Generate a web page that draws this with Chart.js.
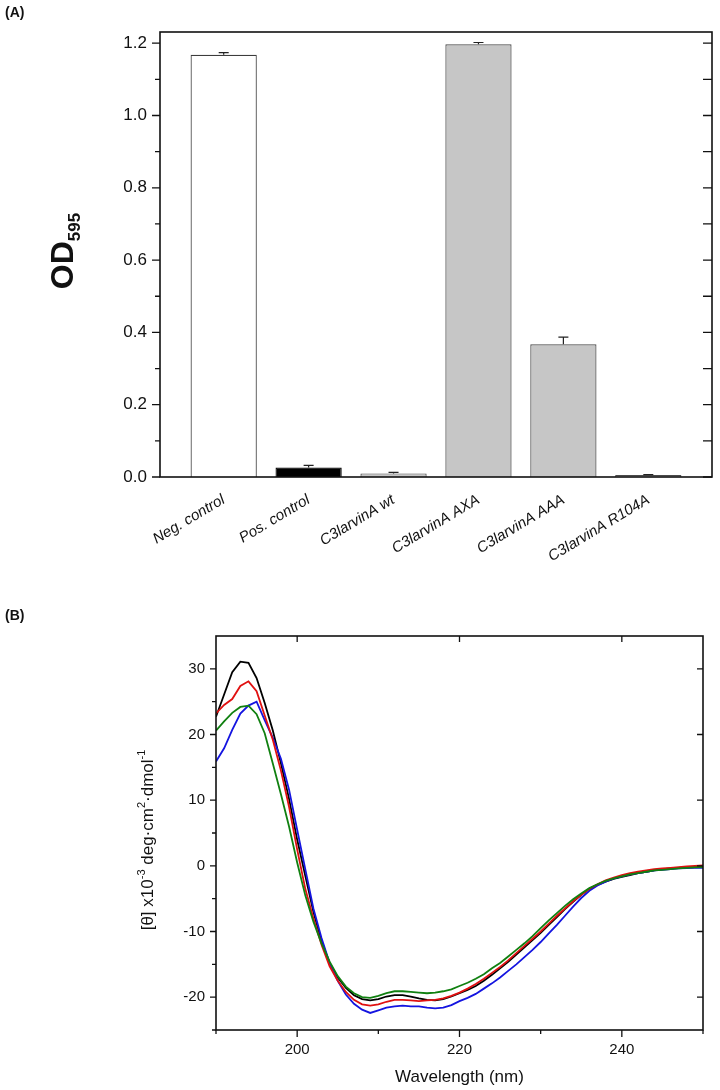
<!DOCTYPE html>
<html>
<head>
<meta charset="utf-8">
<script src="https://cdn.jsdelivr.net/npm/chart.js@4.4.1/dist/chart.umd.min.js"></script>
<style>
  html, body { margin: 0; padding: 0; background: #fff; }
  body { width: 720px; height: 1090px; position: relative; overflow: hidden; font-family: "Liberation Sans", Arial, sans-serif; }
  .panel { position: absolute; left: 0; width: 720px; }
  #wrapA { top: 0; height: 560px; }
  #wrapB { top: 590px; height: 500px; }
  .tag { position: absolute; left: 5px; font-weight: bold; font-size: 14px; color: #111; z-index: 2; }
</style>
</head>
<body>
<div class="panel" id="wrapA"><canvas id="odChart"></canvas></div>
<div class="panel" id="wrapB"><canvas id="cdChart"></canvas></div>
<div class="tag" style="top:4px">(A)</div>
<div class="tag" style="top:607px">(B)</div>
<script>
// panel A: OD595 per construct
const categories = ["Neg. control", "Pos. control", "C3larvinA wt", "C3larvinA AXA", "C3larvinA AAA", "C3larvinA R104A"];
const odMeans = [1.168, 0.026, 0.010, 1.197, 0.367, 0.0055];
const odErrors = [0.006, 0.006, 0.003, 0.005, 0.020, 0.001];
const odTicks = [0, 0.2, 0.4, 0.6, 0.8, 1.0, 1.2];
const odMinorTicks = [0.1, 0.3, 0.5, 0.7, 0.9, 1.1];

// panel B: CD spectra
const wavelengths = [190, 191, 192, 193, 194, 195, 196, 197, 198, 199,
  200, 201, 202, 203, 204, 205, 206, 207, 208, 209,
  210, 211, 212, 213, 214, 215, 216, 217, 218, 219,
  220, 221, 222, 223, 224, 225, 226, 227, 228, 229,
  230, 231, 232, 233, 234, 235, 236, 237, 238, 239,
  240, 241, 242, 243, 244, 245, 246, 247, 248, 249, 250];
const thetaBlack = [22.7, 26.1, 29.5, 31.1, 30.9, 28.6, 24.8, 20.6, 15.6, 10.2,
  4.0, -1.5, -7.0, -11.5, -14.8, -17.0, -18.6, -19.7, -20.3, -20.5,
  -20.3, -19.9, -19.7, -19.7, -19.9, -20.2, -20.4, -20.5, -20.3, -19.9,
  -19.4, -18.9, -18.3, -17.5, -16.6, -15.6, -14.6, -13.5, -12.4, -11.3,
  -10.2, -9.0, -7.8, -6.6, -5.5, -4.4, -3.5, -2.9, -2.4, -2.0,
  -1.7, -1.4, -1.1, -0.9, -0.7, -0.5, -0.4, -0.3, -0.2, -0.2, -0.2];
const thetaRed = [23.2, 24.5, 25.4, 27.4, 28.1, 26.6, 22.9, 19.2, 14.5, 9.0,
  2.5, -3.5, -8.0, -12.0, -15.3, -17.5, -19.2, -20.4, -21.1, -21.3,
  -21.1, -20.7, -20.4, -20.4, -20.5, -20.6, -20.5, -20.4, -20.2, -19.8,
  -19.3, -18.7, -18.0, -17.2, -16.3, -15.4, -14.4, -13.3, -12.2, -11.1,
  -10.0, -8.8, -7.6, -6.5, -5.4, -4.4, -3.5, -2.8, -2.2, -1.8,
  -1.4, -1.1, -0.9, -0.7, -0.5, -0.4, -0.3, -0.2, -0.1, 0.0, 0.05];
const thetaBlue = [15.9, 17.9, 20.7, 23.2, 24.4, 25.0, 22.2, 19.5, 16.3, 11.6,
  5.5, -0.5, -6.5, -11.0, -14.8, -17.5, -19.6, -21.0, -21.9, -22.4,
  -22.0, -21.6, -21.4, -21.3, -21.4, -21.4, -21.6, -21.7, -21.6, -21.2,
  -20.6, -20.1, -19.5, -18.7, -17.9, -17.0, -16.0, -15.0, -13.9, -12.8,
  -11.6, -10.3, -9.0, -7.6, -6.2, -4.9, -3.8, -3.0, -2.4, -1.9,
  -1.6, -1.3, -1.1, -0.9, -0.7, -0.6, -0.5, -0.4, -0.35, -0.3, -0.3];
const thetaGreen = [20.6, 22.0, 23.3, 24.2, 24.4, 23.1, 20.2, 15.6, 10.9, 6.0,
  0.5, -4.5, -8.5, -11.8, -14.6, -16.8, -18.4, -19.4, -20.0, -20.1,
  -19.8, -19.4, -19.1, -19.1, -19.2, -19.3, -19.4, -19.3, -19.1, -18.8,
  -18.3, -17.8, -17.2, -16.5, -15.6, -14.8, -13.8, -12.8, -11.8, -10.7,
  -9.5, -8.3, -7.2, -6.1, -5.1, -4.2, -3.4, -2.8, -2.3, -1.9,
  -1.6, -1.3, -1.1, -0.9, -0.7, -0.6, -0.5, -0.4, -0.3, -0.25, -0.2];
const wlTicks = [200, 220, 240];
const wlMinorTicks = [190, 210, 230, 250];
const thetaTicks = [-20, -10, 0, 10, 20, 30];
const thetaMinorTicks = [-25, -15, -5, 5, 15, 25];

Chart.defaults.font.family = '"Liberation Sans", Arial, sans-serif';
Chart.defaults.color = "#111";

// little tick marks, + len = outward, - len = inward
function tickMarks(ctx, chart, scale, values, side, len) {
  const a = chart.chartArea;
  ctx.beginPath();
  values.forEach((v) => {
    const p = scale.getPixelForValue(v);
    if (side === "left") { ctx.moveTo(a.left, p); ctx.lineTo(a.left - len, p); }
    if (side === "right") { ctx.moveTo(a.right, p); ctx.lineTo(a.right + len, p); }
    if (side === "bottom") { ctx.moveTo(p, a.bottom); ctx.lineTo(p, a.bottom + len); }
    if (side === "top") { ctx.moveTo(p, a.top); ctx.lineTo(p, a.top - len); }
  });
  ctx.stroke();
}

function frame(ctx, chart) {
  const a = chart.chartArea;
  ctx.strokeRect(a.left, a.top, a.right - a.left, a.bottom - a.top);
}

// text with sub/superscript pieces, rotated to read bottom-up
function rotatedRich(ctx, parts, cx, cy) {
  ctx.save();
  ctx.translate(cx, cy);
  ctx.rotate(-Math.PI / 2);
  ctx.textBaseline = "alphabetic";
  ctx.textAlign = "left";
  let total = 0;
  parts.forEach((p) => { ctx.font = p.font; total += ctx.measureText(p.t).width; });
  let x = -total / 2;
  parts.forEach((p) => {
    ctx.font = p.font;
    ctx.fillText(p.t, x, p.dy || 0);
    x += ctx.measureText(p.t).width;
  });
  ctx.restore();
}

const decorA = {
  id: "decorA",
  afterDatasetsDraw(chart) {
    const ctx = chart.ctx;
    const xs = chart.scales.x, ys = chart.scales.y;
    ctx.save();
    ctx.strokeStyle = "#222";
    ctx.lineWidth = 1.2;
    odMeans.forEach((m, i) => {
      const x = xs.getPixelForValue(i + 1);
      const y0 = ys.getPixelForValue(m);
      const y1 = ys.getPixelForValue(m + odErrors[i]);
      ctx.beginPath();
      ctx.moveTo(x, y0); ctx.lineTo(x, y1);
      ctx.moveTo(x - 5, y1); ctx.lineTo(x + 5, y1);
      ctx.stroke();
    });
    ctx.restore();
  },
  afterDraw(chart) {
    const ctx = chart.ctx;
    const ys = chart.scales.y;
    ctx.save();
    ctx.strokeStyle = "#111";
    ctx.lineWidth = 1.6;
    frame(ctx, chart);
    ctx.lineWidth = 1.3;
    tickMarks(ctx, chart, ys, odTicks, "left", 8);
    tickMarks(ctx, chart, ys, odMinorTicks, "left", 5);
    tickMarks(ctx, chart, ys, odTicks.concat(odMinorTicks), "right", -9);
    ctx.fillStyle = "#111";
    rotatedRich(ctx, [
      { t: "OD", font: "bold 32px 'Liberation Sans', Arial, sans-serif" },
      { t: "595", font: "bold 17px 'Liberation Sans', Arial, sans-serif", dy: 7 },
    ], 73, 251);
    ctx.restore();
  },
};

new Chart(document.getElementById("odChart"), {
  type: "bar",
  data: {
    datasets: [
      {
        data: categories.map((c, i) => ({ x: i + 1, y: odMeans[i] })),
        backgroundColor: ["#ffffff", "#000000", "#c6c6c6", "#c6c6c6", "#c6c6c6", "#c6c6c6"],
        borderColor: ["#3c3c3c", "#000000", "#4a4a4a", "#4a4a4a", "#4a4a4a", "#4a4a4a"],
        borderWidth: 1.2,
        barPercentage: 0.78,
        categoryPercentage: 1,
      },
    ],
  },
  options: {
    responsive: true,
    maintainAspectRatio: false,
    animation: false,
    layout: { padding: { top: 32, right: 8, left: 0, bottom: 0 } },
    plugins: { legend: { display: false }, tooltip: { enabled: false } },
    scales: {
      x: {
        type: "linear",
        offset: false,
        min: 0.25,
        max: 6.75,
        grid: { display: false, drawTicks: false },
        border: { display: false },
        afterBuildTicks: (s) => { s.ticks = categories.map((c, i) => ({ value: i + 1 })); },
        afterFit: (s) => { s.height = 83; },
        ticks: {
          autoSkip: false,
          minRotation: 31,
          maxRotation: 31,
          padding: 14,
          font: { size: 15, style: "italic" },
          callback: (v) => categories[v - 1] || "",
        },
      },
      y: {
        min: 0,
        max: 1.231,
        grid: { display: false, drawTicks: false },
        border: { display: false },
        afterBuildTicks: (s) => { s.ticks = odTicks.map((v) => ({ value: v })); },
        afterFit: (s) => { s.width = 160; },
        ticks: { padding: 13, font: { size: 17 }, callback: (v) => v.toFixed(1) },
      },
    },
  },
  plugins: [decorA],
});

const decorB = {
  id: "decorB",
  afterDraw(chart) {
    const ctx = chart.ctx;
    const xs = chart.scales.x, ys = chart.scales.y;
    ctx.save();
    ctx.strokeStyle = "#111";
    ctx.lineWidth = 1.6;
    frame(ctx, chart);
    ctx.lineWidth = 1.3;
    tickMarks(ctx, chart, ys, thetaTicks, "left", 6);
    tickMarks(ctx, chart, ys, thetaMinorTicks, "left", 4);
    tickMarks(ctx, chart, ys, thetaTicks, "right", -6);
    tickMarks(ctx, chart, xs, wlTicks, "bottom", 7);
    tickMarks(ctx, chart, xs, wlMinorTicks, "bottom", 4);
    tickMarks(ctx, chart, xs, wlTicks, "top", -6);
    ctx.fillStyle = "#111";
    const f = "17px 'Liberation Sans', Arial, sans-serif";
    const sup = "11px 'Liberation Sans', Arial, sans-serif";
    rotatedRich(ctx, [
      { t: "[\u03b8] x10", font: f },
      { t: "-3", font: sup, dy: -8 },
      { t: " deg\u00b7cm", font: f },
      { t: "2", font: sup, dy: -8 },
      { t: "\u00b7dmol", font: f },
      { t: "-1", font: sup, dy: -8 },
    ], 153, 250);
    ctx.restore();
  },
};

const spectrum = (vals) => wavelengths.map((w, i) => ({ x: w, y: vals[i] }));

new Chart(document.getElementById("cdChart"), {
  type: "line",
  data: {
    datasets: [
      { label: "green", data: spectrum(thetaGreen), borderColor: "#108010" },
      { label: "red", data: spectrum(thetaRed), borderColor: "#e01010" },
      { label: "blue", data: spectrum(thetaBlue), borderColor: "#1414e0" },
      { label: "black", data: spectrum(thetaBlack), borderColor: "#000000" },
    ],
  },
  options: {
    responsive: true,
    maintainAspectRatio: false,
    animation: false,
    layout: { padding: { top: 46, right: 17, left: 0, bottom: 0 } },
    elements: { point: { radius: 0 }, line: { borderWidth: 1.8, tension: 0 } },
    plugins: { legend: { display: false }, tooltip: { enabled: false } },
    scales: {
      x: {
        type: "linear",
        min: 190,
        max: 250,
        grid: { display: false, drawTicks: false },
        border: { display: false },
        afterBuildTicks: (s) => { s.ticks = wlTicks.map((v) => ({ value: v })); },
        afterFit: (s) => { s.height = 60; },
        ticks: { padding: 11, font: { size: 15 } },
        title: { display: true, text: "Wavelength (nm)", font: { size: 17 }, padding: { top: 2, bottom: 2 } },
      },
      y: {
        min: -25,
        max: 35,
        grid: { display: false, drawTicks: false },
        border: { display: false },
        afterBuildTicks: (s) => { s.ticks = thetaTicks.map((v) => ({ value: v })); },
        afterFit: (s) => { s.width = 216; },
        ticks: { padding: 11, font: { size: 15 } },
      },
    },
  },
  plugins: [decorB],
});
</script>
</body>
</html>
